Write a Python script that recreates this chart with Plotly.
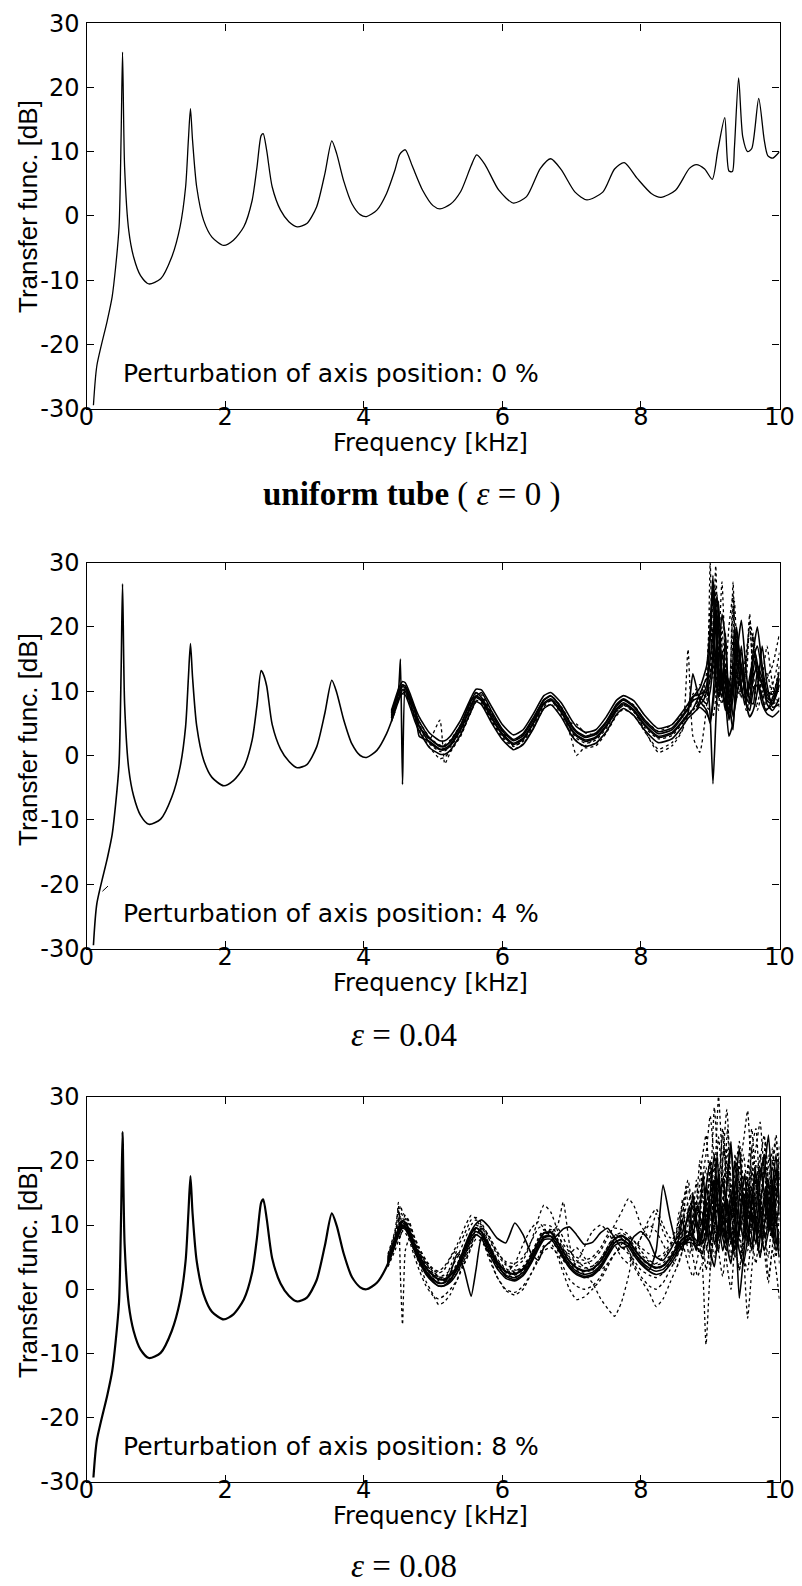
import plotly.graph_objects as go

# ---------------- data ----------------
X_TICKS = [0, 2, 4, 6, 8, 10]
X_TICK_TEXT = ["0", "2", "4", "6", "8", "10"]
Y_TICKS = [-30, -20, -10, 0, 10, 20, 30]
Y_TICK_TEXT = ["-30", "-20", "-10", "0", "10", "20", "30"]

# uniform tube, full curve
FREQ_BASE = [0.10, 0.15, 0.30, 0.37, 0.42, 0.47, 0.50, 0.52, 0.55, 0.61,
             0.68, 0.78, 0.90, 1.07, 1.23, 1.35, 1.43, 1.47, 1.50, 1.53,
             1.59, 1.69, 1.81, 1.98, 2.12, 2.27, 2.39, 2.46, 2.52, 2.55,
             2.60, 2.68, 2.80, 2.92, 3.04, 3.18, 3.32, 3.44, 3.54, 3.61,
             3.71, 3.83, 3.95, 4.04, 4.19, 4.33, 4.45, 4.52, 4.60, 4.70,
             4.85, 5.00, 5.10, 5.25, 5.40, 5.55, 5.63, 5.75, 5.95, 6.16,
             6.35, 6.55, 6.70, 6.85, 7.05, 7.22, 7.45, 7.62, 7.76, 7.95,
             8.15, 8.29, 8.50, 8.70, 8.80, 8.92, 9.03, 9.11, 9.21, 9.27,
             9.32, 9.35, 9.41, 9.47, 9.54, 9.60, 9.70, 9.78, 9.83, 9.90,
             10.0]
DB_UNIFORM = [-29.5, -23.3, -16.3, -12.6, -8.0, -1.7, 12.8, 25.5, 7.6, -2.3,
              -6.4, -9.3, -10.6, -9.8, -6.4, -1.7, 4.5, 11.8, 16.7, 11.8,
              4.5, -0.7, -3.3, -4.6, -3.8, -1.7, 2.4, 7.6, 12.5, 12.8,
              10.2, 4.5, 0.9, -0.9, -1.7, -1.2, 1.4, 6.6, 11.7, 9.7,
              5.5, 1.9, 0.2, -0.1, 0.9, 3.5, 7.1, 9.6, 10.3, 7.8,
              4.0, 1.6, 1.1, 1.8, 3.8, 7.8, 9.5, 8.0, 4.0, 2.0,
              3.0, 7.4, 8.9, 7.2, 3.7, 2.5, 3.7, 7.3, 8.3, 5.8,
              3.5, 2.9, 4.0, 7.4, 8.0, 7.3, 5.7, 10.2, 15.3, 7.0,
              6.9, 10.7, 21.5, 12.3, 10.0, 10.5, 18.3, 11.8, 9.4, 9.0,
              10.0]

# low-frequency part shared by the perturbed ensembles
FREQ_LOW = [0.10, 0.15, 0.30, 0.37, 0.42, 0.47, 0.50, 0.52, 0.55, 0.61,
            0.68, 0.78, 0.90, 1.07, 1.23, 1.35, 1.43, 1.47, 1.50, 1.53,
            1.59, 1.69, 1.81, 1.98, 2.12, 2.27, 2.39, 2.46, 2.52, 2.55,
            2.60, 2.68, 2.80, 2.92, 3.04, 3.18, 3.32, 3.44, 3.54, 3.61,
            3.71, 3.83, 3.95, 4.04, 4.19, 4.33, 4.45]
DB_LOW_4 = [-29.5, -23.0, -16.0, -12.3, -7.6, -1.3, 13.5, 26.7, 8.0, -2.1,
            -6.3, -9.3, -10.7, -9.9, -6.5, -1.8, 4.5, 12.0, 17.4, 12.2,
            4.6, -0.7, -3.4, -4.7, -3.9, -1.8, 2.4, 7.8, 13.2, 12.7,
            10.8, 4.8, 1.0, -0.9, -1.9, -1.4, 1.3, 6.6, 11.7, 9.8,
            5.6, 1.8, 0.0, -0.3, 0.8, 3.4, 6.8]
DB_LOW_8 = [-29.3, -23.5, -16.5, -12.8, -8.2, -1.9, 12.0, 24.5, 7.0, -2.4,
            -6.5, -9.4, -10.7, -9.9, -6.5, -1.8, 4.4, 11.8, 17.6, 11.9,
            4.4, -0.8, -3.5, -4.7, -3.9, -1.6, 2.6, 8.0, 13.5, 14.0,
            11.0, 4.8, 0.9, -1.0, -1.9, -1.3, 1.4, 6.8, 11.8, 9.9,
            5.6, 1.9, 0.3, 0.0, 1.0, 3.5, 7.0]

# stray mark in the 4 % panel
FREQ_STRAY = [0.23, 0.31]
DB_STRAY = [-21.1, -20.3]

# ---- 4 % perturbation ensemble ----
FREQ_P4 = [4.40, 4.50, 4.53, 4.56, 4.60, 4.68, 4.74, 4.80, 4.95, 5.10,
           5.17, 5.25, 5.40, 5.55, 5.62, 5.70, 5.85, 6.00, 6.16, 6.30,
           6.45, 6.60, 6.70, 6.85, 7.00, 7.07, 7.20, 7.35, 7.50, 7.65,
           7.75, 7.90, 8.05, 8.25, 8.45, 8.60, 8.68, 8.75, 8.85, 8.95,
           9.00, 9.04, 9.08, 9.12, 9.17, 9.22, 9.27, 9.33, 9.38, 9.45,
           9.52, 9.57, 9.62, 9.68, 9.75, 9.82, 9.90, 10.0]
P4_A = [6.8, 10.0, 15.0, -4.5, 10.8, 8.8, 7.3, 4.5, 2.6, 1.5,
        1.4, 2.2, 4.8, 8.5, 9.8, 9.0, 6.3, 3.8, 2.3, 3.1,
        5.6, 8.6, 9.2, 7.3, 4.5, 3.6, 2.8, 3.3, 5.1, 7.7,
        8.6, 7.5, 5.3, 3.4, 4.0, 6.0, 7.2, 9.0, 10.5, 14.0,
        20.0, 28.0, 12.0, 9.0, 16.0, 12.0, 5.5, 9.0, 18.0, 14.0,
        9.0, 8.0, 12.0, 14.0, 12.0, 8.0, 7.0, 9.0]
P4_B = [5.8, 8.8, 9.6, 10.2, 10.0, 7.9, 6.0, 4.6, 2.0, 0.9,
        0.9, 1.5, 4.0, 7.6, 9.0, 8.5, 5.7, 3.2, 1.7, 2.5,
        5.0, 8.0, 8.6, 6.7, 3.9, 3.0, 2.2, 2.7, 4.5, 7.1,
        8.0, 6.9, 4.7, 2.8, 3.4, 5.2, 6.3, 7.2, 9.5, 12.0,
        6.0, -4.4, 5.0, 14.0, 22.0, 18.0, 9.0, 4.0, 15.0, 21.0,
        13.0, 8.5, 8.0, 13.0, 11.0, 8.5, 8.0, 11.0]
P4_C = [6.0, 9.0, 9.8, 10.3, 10.2, 8.0, 6.2, 4.8, 2.5, 5.5,
        -1.3, 0.5, 3.0, 7.0, 8.8, 9.0, 6.5, 3.8, 1.5, 2.2,
        4.5, 7.5, 8.6, 7.2, 2.5, 0.0, 1.5, 2.8, 4.5, 6.8,
        7.8, 7.0, 4.0, 0.5, 1.5, 4.0, 16.5, 3.0, 0.5, 8.0,
        30.0, 12.0, 26.0, 10.0, 8.0, 12.0, 20.0, 25.0, 9.0, 11.0,
        16.0, 20.0, 13.0, 8.0, 12.0, 17.0, 11.0, 7.5]
P4_D = [6.5, 9.6, 10.4, 11.0, 10.6, 8.5, 6.7, 5.3, 2.8, 1.6,
        1.7, 2.4, 4.8, 8.3, 9.7, 9.4, 6.6, 4.0, 2.4, 3.3,
        5.8, 8.6, 9.3, 7.6, 5.0, 4.9, 3.5, 3.3, 5.2, 7.8,
        8.7, 7.8, 5.6, 3.8, 4.8, 6.5, 7.8, 9.5, 11.0, 9.0,
        13.0, 18.0, 29.5, 15.0, 9.0, 14.0, 7.0, 23.0, 16.0, 10.0,
        12.0, 21.0, 18.0, 12.0, 9.0, 12.0, 14.0, 19.0]
P4_E = [6.2, 9.4, 10.2, 10.7, 10.5, 8.3, 7.3, 3.0, 2.2, 1.0,
        1.1, 1.7, 4.2, 7.9, 9.3, 8.7, 5.9, 3.4, 1.9, 2.7,
        5.2, 8.2, 8.8, 6.9, 4.1, 3.2, 2.4, 2.9, 4.7, 7.3,
        8.2, 7.1, 4.9, 3.0, 3.6, 5.4, 6.6, 12.7, 8.5, 7.0,
        5.0, 8.0, 12.0, 24.0, 13.0, 9.0, 3.0, 5.0, 11.0, 17.0,
        8.0, 6.0, 7.0, 10.0, 17.0, 11.0, 7.5, 8.0]
P4_F = [5.5, 8.5, 9.3, 9.8, 9.6, 7.5, 5.6, 4.0, 1.3, -0.5,
        -0.3, 0.8, 3.2, 6.8, 8.3, 8.0, 5.2, 2.6, 1.0, 1.8,
        4.3, 7.3, 8.0, 6.1, 3.3, 2.3, 1.2, 1.5, 3.5, 6.2,
        7.2, 6.2, 3.8, 1.0, 2.0, 4.0, 6.8, 8.5, 10.0, 9.0,
        12.0, 26.0, 10.0, 7.0, 20.0, 11.0, 6.0, 13.0, 19.0, 11.0,
        7.0, 9.0, 19.0, 13.0, 9.0, 7.0, 8.0, 8.5]
P4_G = [6.6, 9.8, 10.5, 11.0, 10.8, 8.7, 6.8, 5.3, 2.7, 1.4,
        1.5, 2.1, 4.6, 8.7, 9.2, 9.8, 6.8, 4.1, 2.5, 3.4,
        5.9, 8.7, 9.3, 7.5, 4.7, 3.8, 3.0, 3.5, 5.3, 8.0,
        8.8, 7.7, 5.6, 3.7, 4.3, 6.2, 7.4, 8.5, 9.0, 8.0,
        10.0, 14.0, 21.0, 11.0, 9.0, 19.0, 8.0, 10.0, 13.0, 16.0,
        10.0, 9.0, 15.0, 17.0, 13.0, 9.0, 8.5, 12.0]
P4_H = [5.9, 9.1, 9.7, 10.1, 9.9, 7.8, 5.9, 4.4, 1.8, 0.6,
        0.7, 1.3, 3.7, 7.3, 8.6, 8.2, 5.4, 2.9, 1.4, 2.3,
        4.8, 7.8, 8.5, 6.5, 3.7, 2.7, 1.9, 2.4, 4.2, 6.9,
        7.8, 6.7, 4.4, 2.6, 3.1, 5.0, 6.0, 7.0, 8.0, 7.5,
        7.0, 6.0, 9.0, 16.0, 27.0, 14.0, 6.0, 27.0, 12.0, 9.0,
        14.0, 22.0, 11.0, 7.0, 10.0, 13.0, 9.0, 14.0]
P4_I = [7.0, 10.3, 11.0, 11.5, 11.3, 9.3, 7.5, 6.0, 3.5, 2.3,
        2.3, 3.0, 5.5, 9.0, 10.3, 10.2, 7.5, 4.8, 3.2, 4.0,
        6.5, 9.3, 9.8, 8.2, 5.5, 4.5, 3.6, 4.0, 6.0, 8.6,
        9.3, 8.5, 6.3, 4.2, 4.8, 6.8, 8.0, 9.2, 9.5, 10.0,
        12.0, 16.0, 24.0, 14.0, 10.0, 13.0, 9.0, 12.0, 20.0, 13.0,
        10.0, 11.0, 16.0, 20.0, 14.0, 10.0, 9.5, 13.0]
P4_J = [5.3, 8.4, 9.2, 9.6, 9.4, 7.2, 5.3, 3.8, 1.2, 0.2,
        0.2, 0.8, 3.3, 6.9, 8.4, 7.9, 5.0, 2.5, 0.9, 1.7,
        4.2, 7.3, 7.9, 6.0, 3.1, 2.2, 1.4, 1.9, 3.7, 6.4,
        7.3, 6.2, 4.0, 2.0, 2.6, 4.5, 5.8, 6.5, 7.5, 6.5,
        5.5, 9.0, 16.0, 20.0, 11.0, 7.0, 12.0, 6.0, 9.0, 14.0,
        8.0, 7.0, 10.0, 11.0, 8.0, 6.5, 6.0, 7.0]
P4_CURVES = [P4_A, P4_B, P4_C, P4_D, P4_E, P4_F, P4_G, P4_H, P4_I, P4_J]
P4_DOTTED = [False, False, True, True, False, True, False, True, False, False]

# extra high-frequency members of the 4 % ensemble
FREQ_P4_HI = [8.80, 8.85, 8.90, 8.95, 9.00, 9.05, 9.10, 9.15, 9.20, 9.25,
              9.30, 9.35, 9.40, 9.45, 9.50, 9.55, 9.60, 9.65, 9.70, 9.75,
              9.80, 9.85, 9.90, 9.95, 10.0]
P4_HI_A = [7.5, 8.5, 9.5, 11.0, 18.0, 27.0, 16.0, 10.0, 14.0, 8.0,
           9.0, 20.0, 15.0, 10.0, 9.0, 11.0, 14.0, 16.0, 13.0, 11.0,
           10.0, 9.0, 8.0, 9.5, 11.0]
P4_HI_B = [8.0, 9.0, 10.0, 13.0, 23.0, 17.0, 11.0, 20.0, 12.0, 7.0,
           12.0, 24.0, 13.0, 9.0, 12.0, 18.0, 19.0, 14.0, 12.0, 10.0,
           8.0, 9.0, 11.0, 13.0, 16.0]
P4_HI_C = [7.0, 8.0, 8.5, 10.0, 15.0, 20.0, 25.0, 13.0, 9.0, 6.5,
           8.0, 14.0, 18.0, 11.0, 8.0, 10.0, 12.0, 15.0, 11.0, 9.0,
           7.0, 7.5, 9.0, 10.0, 12.0]
P4_HI_CURVES = [P4_HI_A, P4_HI_B, P4_HI_C]
P4_HI_DOTTED = [False, True, False]

# ---- 8 % perturbation ensemble ----
FREQ_P8 = [4.35, 4.45, 4.50, 4.53, 4.56, 4.60, 4.66, 4.72, 4.80, 4.90,
           5.00, 5.08, 5.16, 5.25, 5.35, 5.45, 5.55, 5.62, 5.70, 5.80,
           5.92, 6.05, 6.18, 6.30, 6.42, 6.52, 6.60, 6.70, 6.80, 6.88,
           6.97, 7.07, 7.18, 7.30, 7.42, 7.52, 7.62, 7.72, 7.82, 7.90,
           8.00, 8.12, 8.22, 8.32, 8.42, 8.52, 8.60, 8.68, 8.75, 8.82,
           8.88, 8.94, 9.00, 9.06, 9.12, 9.18, 9.24, 9.30, 9.36, 9.42,
           9.48, 9.54, 9.60, 9.66, 9.72, 9.78, 9.84, 9.90, 9.95, 10.0]
P8_A = [4.8, 7.9, 9.5, 10.3, 10.7, 10.4, 9.2, 7.4, 5.4, 3.4,
        2.2, 1.6, 1.6, 2.2, 3.7, 6.2, 8.7, 9.6, 9.0, 6.9,
        4.4, 2.8, 2.4, 3.2, 5.2, 7.4, 8.8, 8.9, 7.4, 5.9,
        4.4, 3.4, 2.9, 3.2, 4.4, 6.2, 7.9, 8.4, 7.7, 6.4,
        5.0, 3.9, 3.4, 3.7, 4.9, 6.6, 7.9, 8.4, 8.2, 7.4,
        9.0, 14.0, 8.0, 12.0, 18.0, 10.0, 7.0, 13.0, 20.0, 11.0,
        8.0, 15.0, 12.0, 9.0, 17.0, 21.0, 12.0, 8.0, 14.0, 18.0]
P8_B = [4.0, 7.0, 8.5, 9.3, 9.7, 9.5, 8.3, 6.5, 4.5, 2.5,
        1.2, 0.5, 0.6, 1.4, 3.5, 6.5, 9.0, 10.2, 10.8, 9.8,
        8.0, 7.2, 10.3, 8.5, 5.5, 4.5, 6.5, 7.5, 8.5, 9.4,
        9.7, 8.5, 7.0, 7.3, 8.8, 9.5, 8.0, 6.5, 6.8, 8.2,
        9.0, 7.5, 5.0, 4.5, 6.0, 8.0, 9.0, 11.0, 13.0, 10.0,
        7.0, 9.0, 15.0, 21.0, 12.0, 8.0, 6.0, 11.0, 16.0, 22.0,
        13.0, 9.0, 7.0, 12.0, 19.0, 15.0, 10.0, 16.0, 21.0, 12.0]
P8_C = [4.0, 7.0, 13.5, 2.0, -5.5, 6.0, 8.0, 6.2, 4.0, 1.2,
        -0.8, -2.4, -2.0, -0.8, 1.5, 4.5, 7.5, 8.5, 8.0, 5.0,
        2.0, -0.2, -0.9, 0.0, 2.5, 5.0, 6.8, 7.2, 5.0, 2.5,
        0.0, -1.6, -1.2, 0.0, 1.5, 3.5, 5.5, 6.5, 5.5, 3.5,
        1.5, -0.5, -2.7, -1.5, 1.0, 3.5, 6.0, 9.0, 5.0, 2.0,
        4.0, -8.6, 3.0, 9.0, 6.0, 12.0, 4.0, 0.0, 8.0, 14.0,
        6.0, -4.5, 3.0, 10.0, 5.0, 9.0, 2.0, 6.0, 3.0, -1.6]
P8_D = [5.0, 8.5, 10.5, 12.0, 11.5, 11.0, 10.0, 8.0, 6.0, 4.0,
        2.5, 2.0, 2.2, 3.0, 5.0, 7.5, 10.0, 10.8, 10.0, 8.0,
        5.5, 3.8, 3.5, 4.5, 7.5, 11.0, 13.1, 12.0, 9.0, 6.5,
        5.0, 4.2, 4.0, 4.5, 6.0, 8.0, 10.0, 12.0, 14.1, 13.0,
        10.0, 8.0, 11.8, 9.0, 7.0, 8.0, 12.0, 16.0, 11.0, 14.0,
        20.0, 24.0, 16.0, 28.3, 18.0, 12.0, 22.0, 15.0, 11.0, 19.0,
        23.0, 27.8, 17.0, 13.0, 20.0, 24.0, 15.0, 19.0, 23.0, 16.0]
P8_E = [4.2, 7.2, 8.7, 9.5, 9.9, 9.7, 8.5, 6.7, 4.7, 2.7,
        1.5, 0.9, 1.0, 2.5, 5.5, 3.0, -1.1, 3.0, 8.0, 7.0,
        4.0, 2.0, 1.5, 2.3, 4.3, 6.6, 8.0, 8.2, 6.7, 5.0,
        3.5, 2.5, 2.0, 2.3, 3.6, 5.4, 7.2, 7.7, 7.0, 5.7,
        4.2, 3.0, 6.0, 16.2, 11.0, 7.0, 7.2, 7.6, 8.5, 12.0,
        12.0, 9.0, 13.0, 7.0, 10.0, 17.0, 13.0, 8.0, 5.0, 9.0,
        15.0, 10.0, 6.0, 11.0, 8.0, 13.0, 17.0, 11.0, 7.0, 9.0]
P8_F = [4.6, 7.7, 9.2, 10.0, 10.4, 10.2, 9.0, 7.2, 5.2, 3.2,
        2.0, 1.4, 1.4, 2.0, 3.5, 6.0, 8.5, 9.4, 8.8, 6.7,
        4.2, 2.6, 2.2, 3.0, 5.0, 7.2, 8.6, 8.7, 10.0, 13.6,
        7.0, 3.2, 2.7, 3.0, 4.2, 6.0, 7.7, 8.2, 7.5, 6.2,
        4.8, 3.7, 3.2, 3.5, 4.7, 6.4, 7.7, 8.2, 8.0, 7.2,
        11.0, 7.0, 5.0, 14.0, 23.7, 16.0, 10.0, 5.0, 12.0, 20.0,
        17.0, 11.0, 22.0, 25.0, 14.0, 8.0, 12.0, 19.0, 15.0, 22.7]
P8_G = [4.4, 7.4, 8.9, 9.7, 10.1, 9.9, 8.7, 6.9, 4.9, 2.9,
        1.7, 1.1, 1.1, 1.7, 3.2, 5.7, 8.2, 9.1, 8.5, 6.4,
        3.9, 2.3, 1.9, 2.7, 4.7, 6.9, 8.3, 8.4, 6.9, 5.4,
        3.9, 2.9, 2.4, 1.0, -1.5, -3.0, -4.2, -2.0, 2.0, 6.0,
        8.0, 10.0, 9.0, 7.0, 5.0, 3.5, 6.0, 10.0, 14.0, 9.0,
        5.0, 12.0, 18.0, 10.0, 6.0, 14.0, 20.0, 12.0, 7.0, 3.0,
        7.0, 13.0, 19.0, 10.0, 5.0, 11.0, 15.0, 8.0, 5.0, 12.0]
P8_H = [5.2, 8.8, 11.0, 13.0, 12.0, 11.3, 10.3, 8.3, 6.3, 4.3,
        3.0, 2.5, 3.0, 4.8, 6.5, 8.5, 10.8, 11.2, 10.3, 8.3,
        5.8, 4.3, 4.0, 5.0, 7.5, 9.5, 10.0, 9.8, 8.5, 7.0,
        5.8, 5.0, 4.5, 5.0, 6.5, 8.5, 9.5, 9.3, 8.5, 7.5,
        6.5, 5.5, 5.0, 5.5, 7.0, 9.0, 11.0, 13.5, 15.0, 12.0,
        17.0, 21.0, 27.0, 20.0, 15.0, 25.0, 19.0, 14.0, 18.0, 23.0,
        16.0, 12.0, 18.0, 22.0, 26.0, 18.0, 14.0, 20.0, 24.0, 17.0]
P8_I = [3.8, 6.8, 8.3, 9.1, 9.5, 9.3, 8.1, 6.3, 4.3, 2.3,
        1.1, 0.5, 0.5, 1.1, 2.6, 5.1, 7.6, 8.5, 7.9, 5.8,
        3.3, 1.7, 1.3, 2.1, 4.1, 6.3, 7.7, 7.8, 6.3, 4.8,
        3.3, 2.3, 1.8, 2.1, 3.3, 5.1, 6.8, 7.3, 6.6, 5.3,
        3.9, 2.8, 2.3, 2.6, 3.8, 5.5, 6.8, 7.3, 7.1, 6.3,
        5.5, 8.0, 12.0, 17.0, 11.0, 6.0, 9.0, 15.0, 10.0, 6.0,
        4.0, 8.0, 14.0, 18.0, 10.0, 6.0, 9.0, 13.0, 8.0, 5.0]
P8_J = [4.7, 7.8, 9.6, 11.5, 9.0, 10.5, 9.3, 7.5, 5.5, 3.5,
        2.3, 1.7, 1.3, 3.5, 6.0, 4.0, 6.5, 9.5, 9.8, 7.2,
        4.6, 3.0, 2.6, 3.4, 5.4, 8.0, 9.3, 9.0, 7.6, 6.1,
        5.5, 6.5, 5.0, 3.6, 4.8, 6.6, 8.3, 8.8, 8.1, 6.8,
        5.4, 4.3, 3.8, 4.1, 5.3, 7.0, 8.3, 9.0, 10.5, 13.0,
        8.0, 6.0, 10.0, 16.0, 30.0, 19.0, 11.0, 7.0, 15.0, 9.0,
        5.0, 3.0, 9.0, 15.0, 21.0, 14.0, 9.0, 12.0, 18.0, 13.0]
P8_K = [4.3, 7.3, 8.8, 9.6, 10.0, 9.8, 8.6, 6.8, 4.8, 2.8,
        1.6, 1.0, 1.0, 1.6, 3.1, 5.6, 8.1, 9.0, 8.4, 6.3,
        3.8, 2.2, 1.8, 2.6, 4.6, 6.8, 8.2, 8.3, 6.8, 5.3,
        3.8, 2.8, 2.3, 2.6, 3.8, 5.6, 7.3, 7.8, 7.1, 5.8,
        4.4, 3.3, 2.8, 3.1, 4.3, 6.0, 7.3, 7.8, 7.6, 6.8,
        8.0, 11.0, 6.0, 3.5, 9.0, 13.0, 7.0, 4.0, 10.0, -1.4,
        5.0, 12.0, 16.0, 9.0, 5.0, 10.0, 14.0, 9.0, 6.0, 8.0]
P8_L = [4.9, 8.1, 9.9, 10.6, 11.0, 10.7, 9.5, 7.7, 5.7, 3.7,
        2.5, 1.9, 1.9, 2.5, 4.0, 6.5, 9.0, 10.0, 9.4, 7.3,
        4.8, 3.2, 2.8, 3.6, 5.6, 7.8, 9.2, 9.3, 7.8, 6.3,
        4.8, 3.8, 3.3, 3.6, 4.8, 6.6, 8.5, 8.0, 6.0, 4.5,
        3.0, 2.2, 1.8, 2.5, 4.2, 6.5, 9.0, 11.0, 9.0, 12.0,
        15.0, 10.0, 14.0, 19.0, 13.0, 20.0, 28.0, 17.0, 12.0, 16.0,
        21.0, 15.0, 10.0, 17.0, 13.0, 9.0, 16.0, 22.0, 12.0, 7.0]
P8_M = [5.5, 9.0, 12.5, 8.0, 10.5, 11.5, 10.5, 8.5, 6.5, 4.5,
        3.2, 2.8, 3.5, 5.0, 7.0, 9.5, 11.5, 11.0, 9.0, 6.0,
        3.5, 2.5, 4.0, 7.0, 9.5, 10.5, 9.5, 8.0, 6.0, 4.5,
        3.5, 4.0, 6.5, 9.0, 10.0, 9.0, 7.0, 5.0, 4.0, 5.5,
        8.0, 11.0, 12.5, 10.0, 8.0, 9.5, 13.0, 17.0, 12.0, 9.0,
        14.0, 19.0, 13.0, 9.0, 16.0, 24.0, 17.0, 12.0, 21.0, 15.0,
        10.0, 18.0, 25.0, 16.0, 11.0, 19.0, 14.0, 10.0, 17.0, 21.0]
P8_N = [3.5, 6.0, 7.5, 8.5, 9.0, 8.8, 7.5, 5.5, 3.0, 0.5,
        -1.0, -1.5, -1.0, 0.0, 1.5, 4.0, 6.5, 7.8, 7.5, 5.5,
        2.0, 0.0, -0.5, 0.5, 2.5, 4.5, 6.0, 6.5, 5.5, 3.5,
        1.5, 0.5, 0.0, 0.5, 2.0, 4.0, 5.5, 6.5, 6.0, 4.0,
        2.0, 0.5, 0.0, 1.0, 3.0, 5.0, 7.0, 4.0, 2.0, 5.0,
        9.0, 3.0, 7.0, 12.0, 6.0, 2.0, 8.0, 13.0, 7.0, 3.0,
        9.0, 14.0, 8.0, 4.0, 10.0, 6.0, 1.0, 7.0, 12.0, 4.0]
P8_O = [4.5, 7.6, 9.3, 10.1, 10.5, 10.3, 9.1, 7.3, 5.3, 3.3,
        2.1, 1.5, 1.5, 2.1, 3.6, 6.1, 8.6, 9.5, 8.9, 6.8,
        4.3, 2.7, 2.3, 3.1, 5.1, 7.3, 8.7, 8.8, 7.3, 5.8,
        4.3, 3.3, 2.8, 3.1, 4.3, 6.1, 7.8, 8.3, 7.6, 6.3,
        4.9, 3.8, 3.3, 3.6, 4.8, 6.5, 7.8, 8.3, 10.0, 13.0,
        10.0, 16.0, 20.0, 12.0, 8.0, 11.0, 16.0, 22.0, 14.0, 9.0,
        12.0, 17.0, 11.0, 7.0, 13.0, 18.0, 24.0, 15.0, 10.0, 14.0]
P8_P = [4.2, 7.5, 9.0, 9.8, 10.3, 10.0, 9.0, 7.5, 5.8, 4.0,
        2.8, 2.0, 1.5, 1.5, 2.5, 4.5, 7.0, 8.5, 9.5, 8.5,
        6.0, 4.0, 3.0, 3.0, 4.5, 6.5, 8.0, 9.0, 9.5, 8.0,
        6.0, 4.5, 3.5, 3.0, 3.0, 4.0, 5.5, 7.0, 8.0, 7.5,
        6.0, 4.5, 4.0, 5.0, 6.5, 8.5, 10.5, 12.0, 9.0, 6.0,
        8.0, 13.0, 9.0, 5.0, 11.0, 18.0, 12.0, 7.0, 13.0, 19.0,
        12.0, 6.0, 11.0, 20.0, 15.0, 9.0, 5.0, 13.0, 18.0, 10.0]
P8_CURVES = [P8_A, P8_B, P8_C, P8_D, P8_E, P8_F, P8_G, P8_H, P8_I, P8_J, P8_K, P8_L,
             P8_M, P8_N, P8_O, P8_P]
P8_DOTTED = [False, False, True, True, False, True, True, True, False, True, False, True,
             True, True, False, True]

# extra high-frequency members of the 8 % ensemble
FREQ_P8_HI = [8.50, 8.55, 8.60, 8.65, 8.70, 8.75, 8.80, 8.85, 8.90, 8.95,
              9.00, 9.05, 9.10, 9.15, 9.20, 9.25, 9.30, 9.35, 9.40, 9.45,
              9.50, 9.55, 9.60, 9.65, 9.70, 9.75, 9.80, 9.85, 9.90, 9.95,
              10.0]
P8_HI_A = [6.0, 9.0, 14.0, 8.0, 5.0, 11.0, 17.0, 9.0, 4.0, 12.0,
           19.0, 10.0, 6.0, 15.0, 22.0, 12.0, 7.0, 16.0, 11.0, 5.0,
           13.0, 20.0, 9.0, 14.0, 18.0, 8.0, 12.0, 21.0, 10.0, 16.0,
           11.0]
P8_HI_B = [5.0, 7.0, 6.0, 10.0, 13.0, 8.0, 6.0, 12.0, 18.0, 9.0,
           7.0, 13.0, 21.0, 11.0, 8.0, 14.0, 9.0, 6.0, 12.0, 17.0,
           10.0, 7.0, 15.0, 11.0, 6.0, 12.0, 16.0, 9.0, 13.0, 19.0,
           14.0]
P8_HI_C = [7.0, 12.0, 8.0, 16.0, 10.0, 6.0, 13.0, 20.0, 14.0, 8.0,
           3.0, 9.0, 14.0, 8.0, 16.0, 25.0, 14.0, 10.0, 19.0, 13.0,
           8.0, 16.0, 22.0, 13.0, 9.0, 17.0, 23.0, 14.0, 8.0, 13.0,
           20.0]
P8_HI_D = [6.5, 8.0, 11.0, 7.0, 9.0, 15.0, 10.0, 7.0, 10.0, 16.0,
           12.0, 17.0, 9.0, 12.0, 10.0, 18.0, 23.0, 13.0, 8.0, 14.0,
           18.0, 11.0, 13.0, 19.0, 14.0, 10.0, 8.0, 12.0, 17.0, 11.0,
           6.0]
P8_HI_CURVES = [P8_HI_A, P8_HI_B, P8_HI_C, P8_HI_D]
P8_HI_DOTTED = [True, False, True, False]

PANEL_NOTES = ["Perturbation of axis position: 0 %",
               "Perturbation of axis position: 4 %",
               "Perturbation of axis position: 8 %"]
CAPTIONS = ["<b>uniform tube</b> ( <i>ε</i> = 0 )",
            "<i>ε</i> = 0.04",
            "<i>ε</i> = 0.08"]

for c in P4_CURVES:
    assert len(c) == len(FREQ_P4), len(c)
for c in P4_HI_CURVES:
    assert len(c) == len(FREQ_P4_HI), len(c)
for c in P8_CURVES:
    assert len(c) == len(FREQ_P8), len(c)
for c in P8_HI_CURVES:
    assert len(c) == len(FREQ_P8_HI), len(c)
assert len(DB_UNIFORM) == len(FREQ_BASE)
assert len(DB_LOW_4) == len(FREQ_LOW) == len(DB_LOW_8)

# ---------------- layout geometry (page pixels) ----------------
PAGE_W, PAGE_H = 802, 1586
BODY = 8                      # browser default body margin
W, H = PAGE_W - BODY, PAGE_H - BODY
X_LEFT, X_RIGHT = 86.5, 779.5
PANELS = [(23.3, 408.5), (562.5, 948.5), (1096.5, 1482.0)]
CAPTION_Y = [494, 1035, 1566]
CAPTION_X = [411, 404, 404]
YTITLE_Y = [207, 740, 1272]


def px(v):
    return (v - BODY) / W


def py(v):
    return 1 - (v - BODY) / H


fig = go.Figure()
BLACK = "black"


def add_line(ax, xs, ys, width=1.1, dash="solid", smooth=0.6):
    fig.add_trace(go.Scatter(
        x=xs, y=ys, mode="lines",
        line=dict(color=BLACK, width=width, dash=dash, shape="spline", smoothing=smooth),
        xaxis="x" if ax == 1 else f"x{ax}",
        yaxis="y" if ax == 1 else f"y{ax}",
        showlegend=False, hoverinfo="skip"))


# panel 1
add_line(1, FREQ_BASE, DB_UNIFORM, width=1.3, smooth=0.7)

# panel 2
add_line(2, FREQ_LOW, DB_LOW_4, width=1.6, smooth=0.7)
add_line(2, FREQ_STRAY, DB_STRAY, width=1.0)
for c, dotted in zip(P4_CURVES, P4_DOTTED):
    add_line(2, FREQ_P4, c, width=1.3 if dotted else 1.6,
             dash="dot" if dotted else "solid", smooth=0.5)
for c, dotted in zip(P4_HI_CURVES, P4_HI_DOTTED):
    add_line(2, FREQ_P4_HI, c, width=1.3 if dotted else 1.6,
             dash="dot" if dotted else "solid", smooth=0.4)

# panel 3
add_line(3, FREQ_LOW, DB_LOW_8, width=2.2, smooth=0.7)
for c, dotted in zip(P8_CURVES, P8_DOTTED):
    add_line(3, FREQ_P8, c, width=1.3 if dotted else 1.6,
             dash="dot" if dotted else "solid", smooth=0.5)
for c, dotted in zip(P8_HI_CURVES, P8_HI_DOTTED):
    add_line(3, FREQ_P8_HI, c, width=1.3 if dotted else 1.6,
             dash="dot" if dotted else "solid", smooth=0.4)

TICK_FONT = dict(family="DejaVu Sans", size=24, color=BLACK)
layout = dict(width=W, height=H,
              margin=dict(l=0, r=0, t=0, b=0, pad=0, autoexpand=False),
              paper_bgcolor="white", plot_bgcolor="white", showlegend=False,
              template="none")

annotations = []
for i, (top, bot) in enumerate(PANELS, start=1):
    sfx = "" if i == 1 else str(i)
    layout[f"xaxis{sfx}"] = dict(
        domain=[px(X_LEFT), px(X_RIGHT)], range=[0, 10], anchor=f"y{sfx}",
        tickmode="array", tickvals=X_TICKS, ticktext=X_TICK_TEXT,
        ticks="inside", ticklen=7, tickwidth=1.2, tickcolor=BLACK,
        showline=True, linecolor=BLACK, linewidth=1.4, mirror="ticks",
        showgrid=False, zeroline=False, tickfont=TICK_FONT, automargin=False,
        ticklabelstandoff=-14)
    layout[f"yaxis{sfx}"] = dict(
        domain=[py(bot), py(top)], range=[-30, 30], anchor=f"x{sfx}",
        tickmode="array", tickvals=Y_TICKS, ticktext=Y_TICK_TEXT,
        ticks="inside", ticklen=7, tickwidth=1.2, tickcolor=BLACK,
        showline=True, linecolor=BLACK, linewidth=1.4, mirror="ticks",
        showgrid=False, zeroline=False, tickfont=TICK_FONT, automargin=False,
        ticklabelstandoff=1)
    annotations.append(dict(
        x=0.5, y=-24.5, xref=f"x{sfx}", yref=f"y{sfx}",
        text=PANEL_NOTES[i - 1], showarrow=False, xanchor="left", yanchor="middle",
        font=dict(family="DejaVu Sans", size=25, color=BLACK)))
    annotations.append(dict(
        x=px(430), y=py(bot + 34), xref="paper", yref="paper",
        text="Frequency [kHz]", showarrow=False, xanchor="center", yanchor="middle",
        font=dict(family="DejaVu Sans", size=24, color=BLACK)))
    annotations.append(dict(
        x=px(28), y=py(YTITLE_Y[i - 1]), xref="paper", yref="paper",
        text="Transfer func. [dB]", showarrow=False, textangle=-90,
        xanchor="center", yanchor="middle",
        font=dict(family="Liberation Sans", size=26, color=BLACK)))
    annotations.append(dict(
        x=px(CAPTION_X[i - 1]), y=py(CAPTION_Y[i - 1]), xref="paper", yref="paper",
        text=CAPTIONS[i - 1], showarrow=False, xanchor="center", yanchor="middle",
        font=dict(family="Liberation Serif", size=33, color=BLACK)))

layout["annotations"] = annotations
fig.update_layout(**layout)
fig.write_html("out.html")
